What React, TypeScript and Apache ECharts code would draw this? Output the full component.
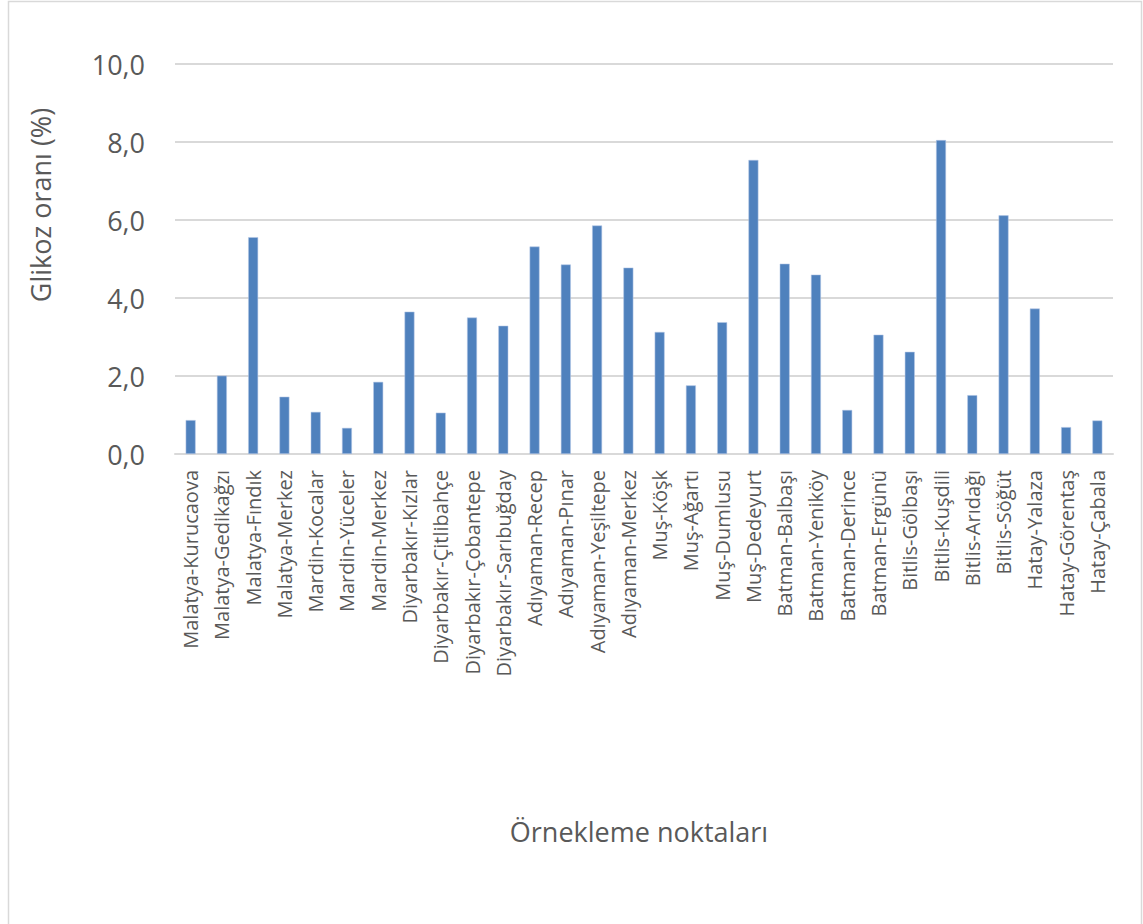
import React, { useEffect, useRef } from "react";
import * as echarts from "echarts";

const categories: string[] = [
  "Malatya-Kurucaova",
  "Malatya-Gedikağzı",
  "Malatya-Fındık",
  "Malatya-Merkez",
  "Mardin-Kocalar",
  "Mardin-Yüceler",
  "Mardin-Merkez",
  "Diyarbakır-Kızlar",
  "Diyarbakır-Çitlibahçe",
  "Diyarbakır-Çobantepe",
  "Diyarbakır-Sarıbuğday",
  "Adıyaman-Recep",
  "Adıyaman-Pınar",
  "Adıyaman-Yeşiltepe",
  "Adıyaman-Merkez",
  "Muş-Köşk",
  "Muş-Ağartı",
  "Muş-Dumlusu",
  "Muş-Dedeyurt",
  "Batman-Balbaşı",
  "Batman-Yeniköy",
  "Batman-Derince",
  "Batman-Ergünü",
  "Bitlis-Gölbaşı",
  "Bitlis-Kuşdili",
  "Bitlis-Arıdağı",
  "Bitlis-Söğüt",
  "Hatay-Yalaza",
  "Hatay-Görentaş",
  "Hatay-Çabala",
];

const glucose: number[] = [
  0.87, 2.01, 5.56, 1.47, 1.08, 0.67, 1.85, 3.65, 1.06, 3.5, 3.29, 5.32, 4.86,
  5.86, 4.78, 3.13, 1.76, 3.38, 7.54, 4.88, 4.6, 1.13, 3.06, 2.62, 8.05, 1.51,
  6.12, 3.73, 0.69, 0.86,
];

const yTicks = { min: 0, max: 10, interval: 2 };
const yTitle = "Glikoz oranı (%)";
const xTitle = "Örnekleme noktaları";

const FONT = "'Open Sans', 'Noto Sans', sans-serif";
const TEXT = "#595959";
const GRID = "#D9D9D9";

export default function App() {
  const ref = useRef<HTMLDivElement>(null);

  useEffect(() => {
    if (!ref.current) return;
    const chart = echarts.init(ref.current, null, { renderer: "svg" });
    chart.setOption({
      animation: false,
      backgroundColor: "#ffffff",
      textStyle: { fontFamily: FONT },
      grid: { left: 175, right: 30, top: 64, bottom: 470, containLabel: false },
      xAxis: {
        type: "category",
        data: categories,
        axisLine: { lineStyle: { color: GRID, width: 2 } },
        axisTick: { show: false },
        axisLabel: {
          interval: 0,
          rotate: 90,
          color: TEXT,
          fontSize: 20,
          fontFamily: FONT,
          margin: 16,
        },
      },
      yAxis: {
        type: "value",
        min: yTicks.min,
        max: yTicks.max,
        interval: yTicks.interval,
        axisLine: { show: false },
        axisTick: { show: false },
        splitLine: { lineStyle: { color: GRID, width: 2 } },
        axisLabel: {
          color: TEXT,
          fontSize: 27,
          fontFamily: FONT,
          margin: 30,
          formatter: (v: number) => v.toFixed(1).replace(".", ","),
        },
      },
      series: [
        {
          type: "bar",
          data: glucose,
          barWidth: "32%",
          itemStyle: {
            color: "#4F81BD",
            borderColor: "rgba(180,200,230,0.9)",
            borderWidth: 0.6,
          },
        },
      ],
      graphic: [
        {
          type: "rect",
          shape: { x: 8.5, y: 1.5, width: 1133, height: 940 },
          style: { fill: "none", stroke: "#D9D9D9", lineWidth: 1.5 },
          silent: true,
        },
        {
          type: "text",
          x: 40,
          y: 205,
          rotation: Math.PI / 2,
          style: {
            text: yTitle,
            fill: TEXT,
            fontSize: 27,
            fontFamily: FONT,
            align: "center",
            verticalAlign: "middle",
          },
        },
        {
          type: "text",
          x: 639,
          y: 831,
          style: {
            text: xTitle,
            fill: TEXT,
            fontSize: 27,
            fontFamily: FONT,
            align: "center",
            verticalAlign: "middle",
          },
        },
      ],
    });
    return () => chart.dispose();
  }, []);

  return (
    <div
      ref={ref}
      style={{ position: "fixed", left: 0, top: 0, width: 1143, height: 924 }}
    />
  );
}
